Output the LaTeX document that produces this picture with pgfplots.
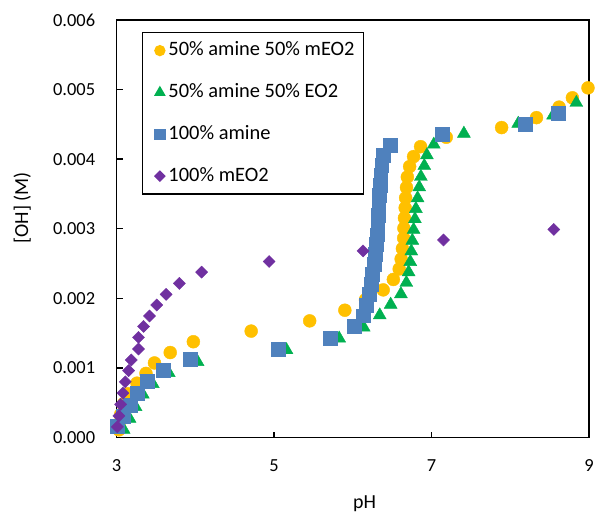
\documentclass[border=0pt]{standalone}
\usepackage{fontspec}
\setmainfont{Carlito}
\usepackage{pgfplots}
\pgfplotsset{compat=1.18}
\definecolor{cY}{HTML}{FFC000}
\definecolor{cG}{HTML}{00B050}
\definecolor{cB}{HTML}{4F81BD}
\definecolor{cP}{HTML}{7030A0}
\begin{document}
\begin{tikzpicture}
\begin{axis}[
 width=474pt, height=419pt, scale only axis,
 xmin=3, xmax=9, ymin=0, ymax=0.006,
 xtick={3,5,7,9}, ytick={0,0.001,0.002,0.003,0.004,0.005,0.006},
 scaled y ticks=false,
 yticklabel style={/pgf/number format/fixed, /pgf/number format/fixed zerofill, /pgf/number format/precision=3, xshift=-18pt},
 /pgf/number format/assume math mode=true,
 tick label style={font=\fontsize{18.5}{22}\selectfont},
 xticklabel style={yshift=-19pt},
 tick align=inside, xtick pos=left, ytick pos=left,
 major tick length=6pt,
 tick style={line width=1.4pt, black},
 axis line style={line width=1.6pt},
 xlabel={pH}, ylabel={[OH] (M)},
 every axis x label/.style={at={(axis description cs:0.525,-0.158)}, anchor=center, font=\fontsize{20}{24}\selectfont},
 every axis y label/.style={at={(axis description cs:-0.200,0.55)}, rotate=90, anchor=center, font=\fontsize{20}{24}\selectfont},
 legend cell align=left,
 legend style={at={(axis description cs:0.053,0.971)}, anchor=north west,
   draw=black, line width=1.3pt, inner sep=6pt, row sep=18pt,
   font=\fontsize{20.5}{24}\selectfont,
   nodes={inner sep=3pt, text height=14pt, text depth=4pt}},
 legend image code/.code={\path (0pt,0pt) (16pt,0pt); \draw[#1] plot coordinates {(11pt,0pt)};},
]
\addplot[only marks, mark=*, mark size=6.5pt, color=cY, mark options={fill=cY, draw=none}, legend image post style={mark size=5pt}] coordinates {
(3.030,0.000110) (3.030,0.000200) (3.051,0.000329) (3.089,0.000486) (3.143,0.000629)
(3.259,0.000781) (3.373,0.000921) (3.481,0.001071) (3.681,0.001221) (3.975,0.001376)
(4.709,0.001529) (5.452,0.001676) (5.899,0.001829) (6.161,0.001979) (6.386,0.002121)
(6.515,0.002271) (6.589,0.002421) (6.614,0.002564) (6.630,0.002714) (6.646,0.002864)
(6.649,0.003007) (6.656,0.003153) (6.665,0.003300) (6.671,0.003443) (6.682,0.003593)
(6.693,0.003743) (6.722,0.003893) (6.772,0.004036) (6.861,0.004179) (7.187,0.004314)
(7.890,0.004453) (8.333,0.004596) (8.620,0.004747) (8.789,0.004881) (8.987,0.005024)
};
\addlegendentry{50\% amine 50\% mEO2}
\addplot[only marks, mark=triangle*, mark size=7.5pt, color=cG, mark options={fill=cG, draw=none}, legend image post style={mark size=5.5pt}] coordinates {
(3.089,0.000114) (3.165,0.000271) (3.241,0.000439) (3.333,0.000619) (3.459,0.000771)
(3.662,0.000929) (4.029,0.001086) (5.158,0.001257) (5.827,0.001424) (6.139,0.001581)
(6.342,0.001757) (6.481,0.001910) (6.611,0.002061) (6.680,0.002224) (6.709,0.002376)
(6.730,0.002524) (6.743,0.002676) (6.756,0.002829) (6.772,0.002986) (6.789,0.003139)
(6.801,0.003286) (6.823,0.003439) (6.844,0.003596) (6.865,0.003747) (6.908,0.003904)
(6.941,0.004057) (7.029,0.004210) (7.411,0.004367) (8.101,0.004510) (8.544,0.004629)
(8.839,0.004810)
};
\addlegendentry{50\% amine 50\% EO2}
\addplot[only marks, mark=square*, mark size=7pt, color=cB, mark options={fill=cB, draw=none}, legend image post style={mark size=5pt}] coordinates {
(3.009,0.000161) (3.080,0.000310) (3.168,0.000471) (3.262,0.000643) (3.389,0.000804)
(3.586,0.000961) (3.937,0.001119) (5.051,0.001271) (5.709,0.001429) (6.022,0.001600)
(6.135,0.001750) (6.168,0.001907) (6.203,0.002057) (6.228,0.002200) (6.247,0.002343)
(6.266,0.002486) (6.285,0.002629) (6.297,0.002771) (6.308,0.002914) (6.316,0.003057)
(6.323,0.003200) (6.329,0.003343) (6.335,0.003486) (6.342,0.003629) (6.354,0.003771)
(6.367,0.003914) (6.392,0.004057) (6.477,0.004200) (7.133,0.004357) (8.186,0.004500)
(8.608,0.004661)
};
\addlegendentry{100\% amine}
\addplot[only marks, mark=square*, mark size=4.3pt, color=cP, mark options={fill=cP, draw=none, rotate=45}, legend image post style={mark size=3.5pt}] coordinates {
(3.009,0.000153) (3.029,0.000310) (3.051,0.000476) (3.080,0.000639) (3.110,0.000800)
(3.152,0.000961) (3.186,0.001114) (3.278,0.001271) (3.278,0.001439) (3.342,0.001596)
(3.418,0.001747) (3.510,0.001904) (3.629,0.002057) (3.797,0.002214) (4.080,0.002376)
(4.937,0.002529) (6.130,0.002681) (7.152,0.002839) (8.553,0.002990)
};
\addlegendentry{100\% mEO2}
\coordinate (sw) at (rel axis cs:0,0);
\coordinate (ne) at (rel axis cs:1,1);
\end{axis}
\path (sw) +(-117pt,-80pt);
\path (ne) +(6pt,20pt);
\end{tikzpicture}
\end{document}
